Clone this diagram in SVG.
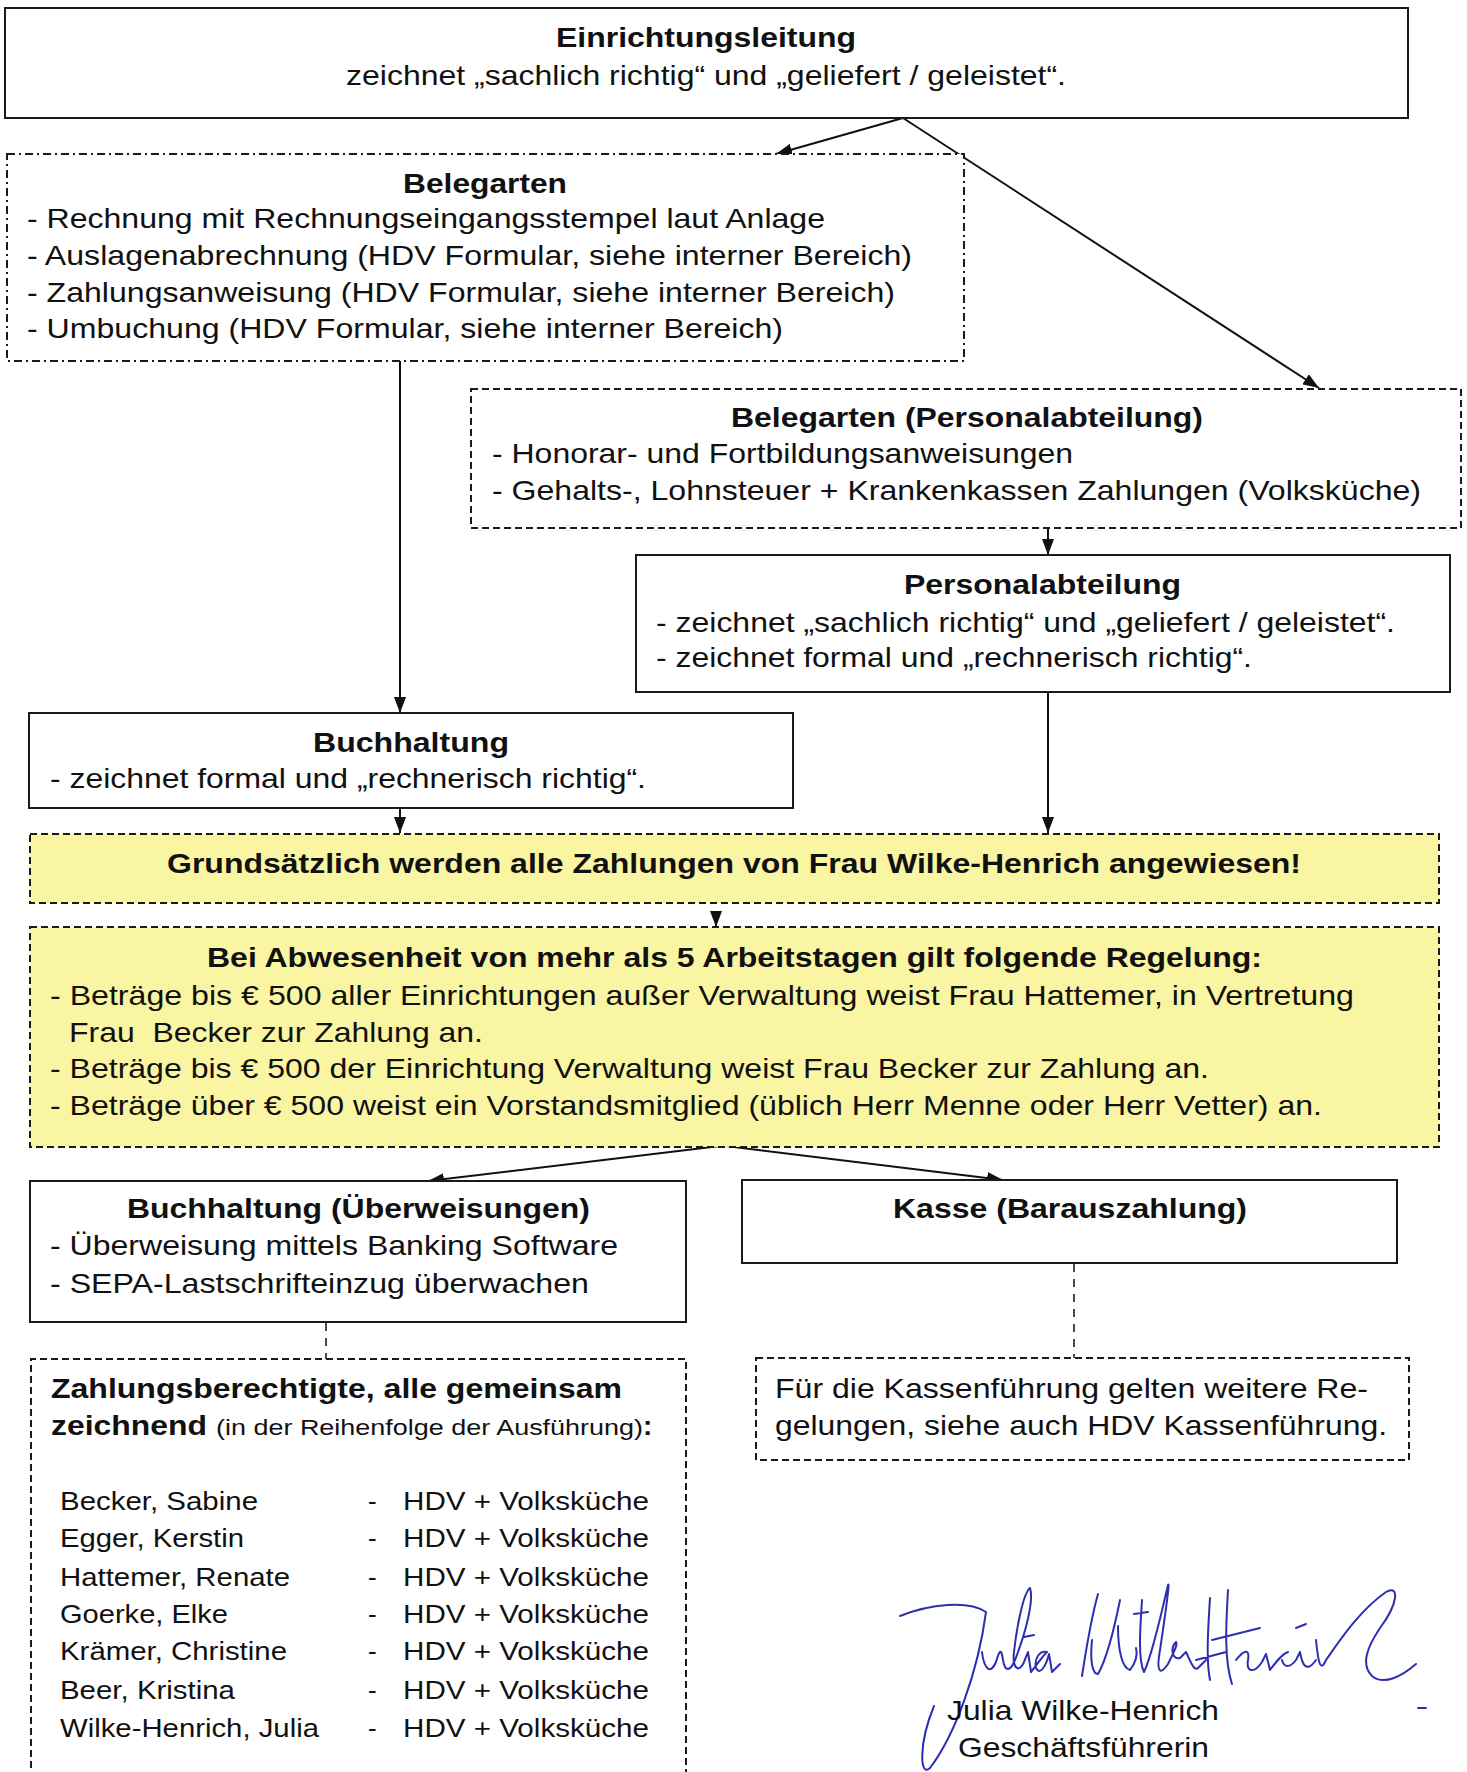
<svg xmlns="http://www.w3.org/2000/svg" width="1467" height="1772" viewBox="0 0 1467 1772">
<style>
text{font-family:"Liberation Sans",Arial,sans-serif;fill:#111;font-size:28px}
.b{font-weight:bold}
.n{font-size:26px}
.s{font-size:22px}
.box{fill:#fff;stroke:#1a1a1a;stroke-width:2}
.dd{fill:#fff;stroke:#1a1a1a;stroke-width:2;stroke-dasharray:8 4 2 4}
.ds{fill:#fff;stroke:#1a1a1a;stroke-width:2;stroke-dasharray:7 4}
.yl{fill:#faf5a2;stroke:#1a1a1a;stroke-width:2;stroke-dasharray:7 4}
.c{stroke:#111;stroke-width:2;fill:none}
.cd{stroke:#111;stroke-width:1.5;fill:none;stroke-dasharray:8 7}
.sig{stroke:#2d2fb0;stroke-width:2;fill:none;stroke-linecap:round;stroke-linejoin:round}
</style>
<defs>
<marker id="ah" viewBox="0 0 16 12" refX="16" refY="6" markerWidth="16" markerHeight="12" markerUnits="userSpaceOnUse" orient="auto">
<path d="M0,0 L16,6 L0,12 z" fill="#111"/>
</marker>
</defs>
<rect width="1467" height="1772" fill="#fff"/>

<g id="connectors">
<line class="c" x1="903" y1="118" x2="776" y2="154" marker-end="url(#ah)"/>
<line class="c" x1="903" y1="118" x2="1319" y2="388" marker-end="url(#ah)"/>
<line class="c" x1="400" y1="361" x2="400" y2="713" marker-end="url(#ah)"/>
<line class="c" x1="1048" y1="528" x2="1048" y2="555" marker-end="url(#ah)"/>
<line class="c" x1="1048" y1="692" x2="1048" y2="833" marker-end="url(#ah)"/>
<line class="c" x1="400" y1="808" x2="400" y2="833" marker-end="url(#ah)"/>
<line class="c" x1="716" y1="911" x2="716" y2="927" marker-end="url(#ah)"/>
<line class="c" x1="720" y1="1146" x2="428" y2="1181" marker-end="url(#ah)"/>
<line class="c" x1="726" y1="1146" x2="1003" y2="1180" marker-end="url(#ah)"/>
<line class="cd" x1="1074" y1="1264" x2="1074" y2="1358"/>
<line class="cd" x1="326" y1="1323" x2="326" y2="1359"/>
</g>

<g id="einrichtungsleitung">
<rect class="box" x="5" y="8" width="1403" height="110"/>
<text class="b" x="556" y="47" textLength="300" lengthAdjust="spacingAndGlyphs">Einrichtungsleitung</text>
<text x="346" y="85" textLength="720" lengthAdjust="spacingAndGlyphs">zeichnet „sachlich richtig“ und „geliefert / geleistet“.</text>
</g>

<g id="belegarten">
<rect class="dd" x="7" y="154" width="957" height="207"/>
<text class="b" x="403" y="193" textLength="164" lengthAdjust="spacingAndGlyphs">Belegarten</text>
<text x="27" y="228" textLength="798" lengthAdjust="spacingAndGlyphs">- Rechnung mit Rechnungseingangsstempel laut Anlage</text>
<text x="27" y="265" textLength="885" lengthAdjust="spacingAndGlyphs">- Auslagenabrechnung (HDV Formular, siehe interner Bereich)</text>
<text x="27" y="302" textLength="868" lengthAdjust="spacingAndGlyphs">- Zahlungsanweisung (HDV Formular, siehe interner Bereich)</text>
<text x="27" y="338" textLength="756" lengthAdjust="spacingAndGlyphs">- Umbuchung (HDV Formular, siehe interner Bereich)</text>
</g>

<g id="belegarten-personal">
<rect class="ds" x="471" y="389" width="990" height="139"/>
<text class="b" x="731" y="427" textLength="472" lengthAdjust="spacingAndGlyphs">Belegarten (Personalabteilung)</text>
<text x="492" y="463" textLength="581" lengthAdjust="spacingAndGlyphs">- Honorar- und Fortbildungsanweisungen</text>
<text x="492" y="500" textLength="929" lengthAdjust="spacingAndGlyphs">- Gehalts-, Lohnsteuer + Krankenkassen Zahlungen (Volksküche)</text>
</g>

<g id="personalabteilung">
<rect class="box" x="636" y="555" width="814" height="137"/>
<text class="b" x="904" y="594" textLength="277" lengthAdjust="spacingAndGlyphs">Personalabteilung</text>
<text x="656" y="632" textLength="739" lengthAdjust="spacingAndGlyphs">- zeichnet „sachlich richtig“ und „geliefert / geleistet“.</text>
<text x="656" y="667" textLength="596" lengthAdjust="spacingAndGlyphs">- zeichnet formal und „rechnerisch richtig“.</text>
</g>

<g id="buchhaltung">
<rect class="box" x="29" y="713" width="764" height="95"/>
<text class="b" x="313" y="752" textLength="196" lengthAdjust="spacingAndGlyphs">Buchhaltung</text>
<text x="50" y="788" textLength="596" lengthAdjust="spacingAndGlyphs">- zeichnet formal und „rechnerisch richtig“.</text>
</g>

<g id="grundsatz">
<rect class="yl" x="30" y="834" width="1409" height="69"/>
<text class="b" x="167" y="873" textLength="1134" lengthAdjust="spacingAndGlyphs">Grundsätzlich werden alle Zahlungen von Frau Wilke-Henrich angewiesen!</text>
</g>

<g id="abwesenheit">
<rect class="yl" x="30" y="927" width="1409" height="220"/>
<text class="b" x="207" y="967" textLength="1055" lengthAdjust="spacingAndGlyphs">Bei Abwesenheit von mehr als 5 Arbeitstagen gilt folgende Regelung:</text>
<text x="50" y="1005" textLength="1304" lengthAdjust="spacingAndGlyphs">- Beträge bis € 500 aller Einrichtungen außer Verwaltung weist Frau Hattemer, in Vertretung</text>
<text x="69" y="1042" textLength="414" lengthAdjust="spacingAndGlyphs" xml:space="preserve">Frau  Becker zur Zahlung an.</text>
<text x="50" y="1078" textLength="1159" lengthAdjust="spacingAndGlyphs">- Beträge bis € 500 der Einrichtung Verwaltung weist Frau Becker zur Zahlung an.</text>
<text x="50" y="1115" textLength="1272" lengthAdjust="spacingAndGlyphs">- Beträge über € 500 weist ein Vorstandsmitglied (üblich Herr Menne oder Herr Vetter) an.</text>
</g>

<g id="buchhaltung-ueberweisungen">
<rect class="box" x="30" y="1181" width="656" height="141"/>
<text class="b" x="127" y="1218" textLength="463" lengthAdjust="spacingAndGlyphs">Buchhaltung (Überweisungen)</text>
<text x="50" y="1255" textLength="568" lengthAdjust="spacingAndGlyphs">- Überweisung mittels Banking Software</text>
<text x="50" y="1293" textLength="539" lengthAdjust="spacingAndGlyphs">- SEPA-Lastschrifteinzug überwachen</text>
</g>

<g id="kasse">
<rect class="box" x="742" y="1180" width="655" height="83"/>
<text class="b" x="893" y="1218" textLength="354" lengthAdjust="spacingAndGlyphs">Kasse (Barauszahlung)</text>
</g>

<g id="zahlungsberechtigte">
<path class="ds" d="M31,1790 V1359 H686 V1790" />
<text class="b" x="51" y="1398" textLength="571" lengthAdjust="spacingAndGlyphs">Zahlungsberechtigte, alle gemeinsam</text>
<text x="51" y="1435"><tspan class="b" textLength="156" lengthAdjust="spacingAndGlyphs">zeichnend</tspan><tspan class="s" x="216" textLength="427" lengthAdjust="spacingAndGlyphs">(in der Reihenfolge der Ausführung)</tspan><tspan class="b" x="643">:</tspan></text>
<g class="names">
<text class="n" x="60" y="1510" textLength="198" lengthAdjust="spacingAndGlyphs">Becker, Sabine</text>
<text class="n" x="60" y="1547" textLength="184" lengthAdjust="spacingAndGlyphs">Egger, Kerstin</text>
<text class="n" x="60" y="1586" textLength="230" lengthAdjust="spacingAndGlyphs">Hattemer, Renate</text>
<text class="n" x="60" y="1623" textLength="168" lengthAdjust="spacingAndGlyphs">Goerke, Elke</text>
<text class="n" x="60" y="1660" textLength="227" lengthAdjust="spacingAndGlyphs">Krämer, Christine</text>
<text class="n" x="60" y="1699" textLength="175" lengthAdjust="spacingAndGlyphs">Beer, Kristina</text>
<text class="n" x="60" y="1737" textLength="259" lengthAdjust="spacingAndGlyphs">Wilke-Henrich, Julia</text>
<text class="n" x="368" y="1510">-</text>
<text class="n" x="368" y="1547">-</text>
<text class="n" x="368" y="1586">-</text>
<text class="n" x="368" y="1623">-</text>
<text class="n" x="368" y="1660">-</text>
<text class="n" x="368" y="1699">-</text>
<text class="n" x="368" y="1737">-</text>
<text class="n" x="403" y="1510" textLength="246" lengthAdjust="spacingAndGlyphs">HDV + Volksküche</text>
<text class="n" x="403" y="1547" textLength="246" lengthAdjust="spacingAndGlyphs">HDV + Volksküche</text>
<text class="n" x="403" y="1586" textLength="246" lengthAdjust="spacingAndGlyphs">HDV + Volksküche</text>
<text class="n" x="403" y="1623" textLength="246" lengthAdjust="spacingAndGlyphs">HDV + Volksküche</text>
<text class="n" x="403" y="1660" textLength="246" lengthAdjust="spacingAndGlyphs">HDV + Volksküche</text>
<text class="n" x="403" y="1699" textLength="246" lengthAdjust="spacingAndGlyphs">HDV + Volksküche</text>
<text class="n" x="403" y="1737" textLength="246" lengthAdjust="spacingAndGlyphs">HDV + Volksküche</text>
</g>
</g>

<g id="kassenfuehrung">
<rect class="ds" x="756" y="1358" width="653" height="102"/>
<text x="775" y="1398" textLength="593" lengthAdjust="spacingAndGlyphs">Für die Kassenführung gelten weitere Re-</text>
<text x="775" y="1435" textLength="612" lengthAdjust="spacingAndGlyphs">gelungen, siehe auch HDV Kassenführung.</text>
</g>

<g id="unterschrift">
<path class="sig" d="M900,1616 C930,1604 968,1600 986,1612 C978,1672 955,1735 930,1768 C920,1778 918,1745 934,1706"/>
<path class="sig" d="M982,1652 C984,1668 990,1676 996,1662 C999,1652 1001,1646 1003,1660 C1005,1672 1010,1672 1015,1660 C1026,1632 1034,1600 1030,1588 C1024,1592 1017,1624 1014,1652 C1012,1668 1019,1674 1024,1662 L1028,1652 L1031,1672 C1036,1666 1041,1658 1047,1652 C1040,1650 1034,1658 1036,1668 C1040,1676 1046,1666 1049,1654 L1052,1672 L1060,1664"/>
<path class="sig" d="M1024,1637 L1034,1635"/>
<path class="sig" d="M1082,1676 C1086,1650 1092,1615 1098,1594 M1092,1640 C1090,1660 1092,1674 1098,1674 C1106,1660 1114,1630 1120,1600 M1118,1626 C1118,1650 1122,1668 1130,1670 C1136,1662 1138,1655 1136,1648 M1134,1614 L1148,1612 M1142,1600 C1140,1630 1138,1660 1144,1672 C1150,1660 1160,1620 1168,1585 C1170,1580 1166,1610 1160,1650 C1156,1672 1160,1676 1168,1664 C1175,1650 1178,1644 1176,1642 C1170,1648 1172,1660 1180,1658 L1186,1652 C1190,1660 1194,1672 1198,1668 L1206,1660"/>
<path class="sig" d="M1196,1660 L1226,1652 M1210,1598 C1208,1630 1206,1660 1210,1680 M1228,1590 C1226,1625 1224,1660 1232,1684 M1212,1640 L1260,1628 M1236,1660 C1244,1650 1250,1648 1248,1660 C1246,1672 1254,1674 1262,1662 L1266,1654 L1270,1670 C1276,1662 1282,1654 1288,1652 M1282,1660 C1284,1668 1290,1668 1296,1660 L1300,1652 C1302,1664 1306,1674 1316,1660 M1296,1628 L1306,1624 M1316,1640 C1318,1660 1320,1674 1326,1660 C1340,1640 1360,1610 1386,1592 C1400,1584 1398,1604 1380,1628 C1368,1646 1360,1664 1372,1676 C1384,1686 1402,1676 1416,1664"/>
<path class="sig" d="M1418,1708 L1426,1708"/>
</g>

<g id="signatur-text">
<text x="947" y="1720" textLength="272" lengthAdjust="spacingAndGlyphs">Julia Wilke-Henrich</text>
<text x="958" y="1757" textLength="251" lengthAdjust="spacingAndGlyphs">Geschäftsführerin</text>
</g>
</svg>
